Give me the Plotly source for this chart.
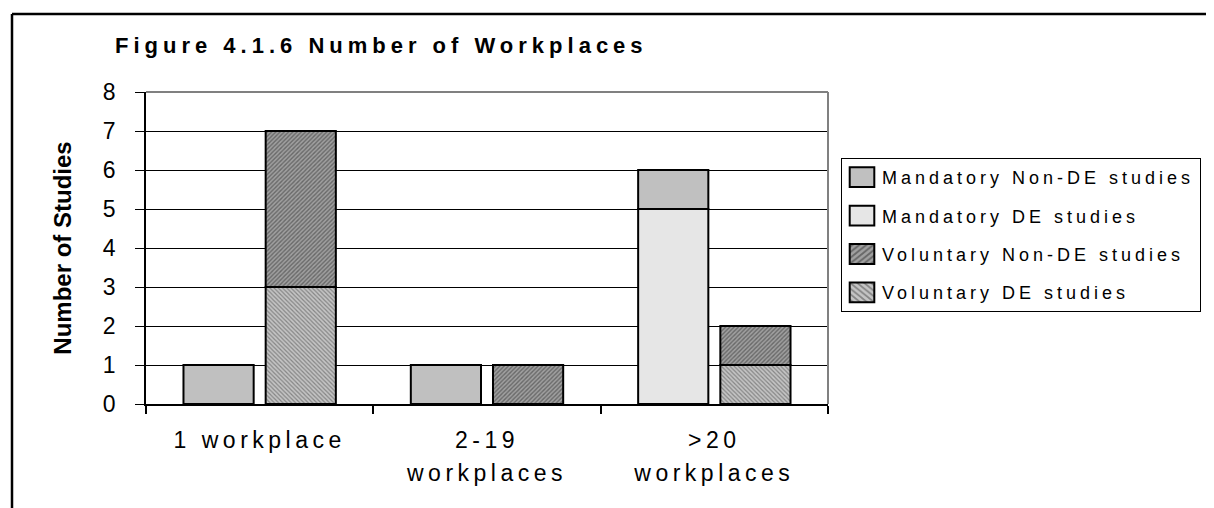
import plotly.graph_objects as go

categories = ["1 workplace", "2-19<br>workplaces", ">20<br>workplaces"]
mand_nonde = [1, 1, 1]
mand_de = [0, 0, 5]
vol_nonde = [4, 1, 1]
vol_de = [3, 0, 1]
series_names = ["Mandatory Non-DE studies", "Mandatory DE studies",
                "Voluntary Non-DE studies", "Voluntary DE studies"]
y_ticks = list(range(0, 9))

FONT = "Liberation Sans, Arial, sans-serif"
line = dict(color="black", width=2)

fig = go.Figure()
fig.add_trace(go.Bar(x=categories, y=mand_nonde, base=mand_de, name=series_names[0],
                     offsetgroup="M", legendgroup="a",
                     marker=dict(color="#c0c0c0", line=line)))
fig.add_trace(go.Bar(x=categories, y=mand_de, name=series_names[1],
                     offsetgroup="M", legendgroup="b",
                     marker=dict(color="#e6e6e6", line=line)))
fig.add_trace(go.Bar(x=categories, y=vol_nonde, base=vol_de, name=series_names[2],
                     offsetgroup="V", legendgroup="c",
                     marker=dict(color="#909090", line=line,
                                 pattern=dict(shape="/", fgcolor="#303030", bgcolor="#a0a0a0",
                                              size=3, solidity=0.45))))
fig.add_trace(go.Bar(x=categories, y=vol_de, name=series_names[3],
                     offsetgroup="V", legendgroup="d",
                     marker=dict(color="#bdbdbd", line=line,
                                 pattern=dict(shape="\\", fgcolor="#454545", bgcolor="#c4c4c4",
                                              size=3, solidity=0.4))))

W, H = 1214, 508
L, R, T, B = 138, 820, 84, 396
pw, ph = R - L, B - T

def px(x):
    return (x - L) / pw

def py(y):
    return (B - y) / ph

shapes = [
    dict(type="line", xref="paper", yref="paper", x0=0, x1=1, y0=1, y1=1,
         line=dict(color="#808080", width=2), layer="above"),
    dict(type="line", xref="paper", yref="paper", x0=1, x1=1, y0=0, y1=1,
         line=dict(color="#808080", width=2), layer="above"),
    dict(type="line", xref="paper", yref="paper", x0=px(4), x1=px(4), y0=py(6), y1=py(H + 5),
         line=dict(color="black", width=2.5)),
    dict(type="line", xref="paper", yref="paper", x0=px(4), x1=px(W + 5), y0=py(6), y1=py(6),
         line=dict(color="black", width=2.5)),
]

fig.update_layout(
    width=W, height=H,
    margin=dict(l=L, r=W - R, t=T, b=H - B, pad=0),
    paper_bgcolor="white", plot_bgcolor="white",
    barmode="group", bargap=0.277, bargroupgap=0.146,
    font=dict(family=FONT, color="black"),
    title=dict(text="<b>Figure 4.1.6 Number of Workplaces</b>",
               x=107 / W, xanchor="left", xref="container",
               y=1 - 37 / H, yanchor="middle", yref="container",
               font=dict(size=22, family=FONT, color="black")),
    xaxis=dict(type="category", showline=True, linecolor="black", linewidth=1.5,
               ticks="outside", tickson="boundaries", ticklen=8, tickcolor="black",
               tickwidth=1.5, showgrid=False,
               tickfont=dict(size=23, family=FONT, color="black"),
               ticklabelstandoff=15),
    yaxis=dict(range=[0, 8], tickvals=y_ticks, showline=True, linecolor="black",
               linewidth=1.5, ticks="outside", ticklen=9, tickcolor="black", tickwidth=1,
               showgrid=True, gridcolor="black", gridwidth=1, zeroline=False,
               tickfont=dict(size=23, family=FONT, color="black"),
               ticklabelstandoff=15,
               title=dict(text="<b>Number of Studies</b>", standoff=24,
                          font=dict(size=24, family=FONT, color="black"))),
    legend=dict(x=(833 - L) / pw, xanchor="left", y=(B - 150) / ph, yanchor="top",
                bordercolor="black", borderwidth=1, bgcolor="white",
                font=dict(size=18, family=FONT, color="black"),
                traceorder="grouped", tracegroupgap=12, itemclick=False),
    shapes=shapes,
    showlegend=True,
)

post = """
var s=document.createElement('style');
s.textContent='.legendtext{letter-spacing:4px} .xtick text{letter-spacing:4.5px} .gtitle{letter-spacing:5px}';
document.head.appendChild(s);
var gd=document.getElementById('{plot_id}');
Plotly.relayout(gd,{'legend.font.size':18.001,'xaxis.tickfont.size':23.001,'title.font.size':22.001}).then(function(){
  document.querySelectorAll('.xtick text tspan.line').forEach(function(t){
    var d=t.getAttribute('dy');
    if(d && parseFloat(d)>0){ t.setAttribute('dy','1.43em'); }
  });
  document.querySelectorAll('.legend .legendpoints path').forEach(function(p){
    var tr=p.getAttribute('transform')||'';
    p.setAttribute('transform', tr+' scale(2.05,1.65)');
    p.style.vectorEffect='non-scaling-stroke';
  });
});
"""

fig.write_html("out.html", post_script=post)
